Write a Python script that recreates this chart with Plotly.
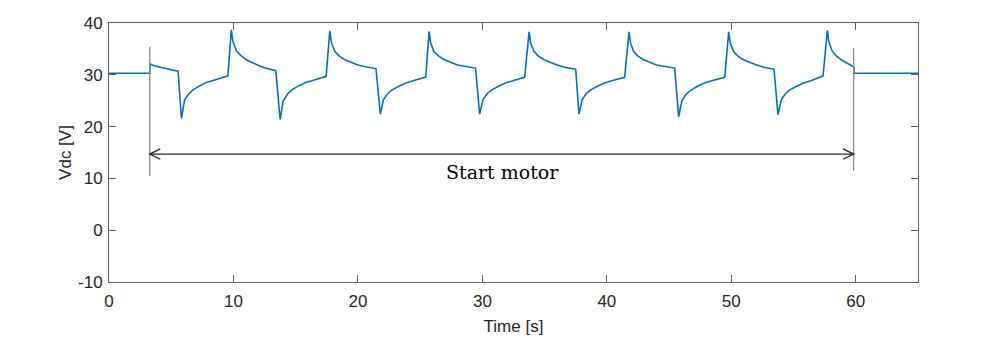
import plotly.graph_objects as go

# Pre-start (motor idle)
t_pre = [0.0, 1.0, 2.0, 3.27]
v_pre = [30.3, 30.3, 30.3, 30.3]

# Motor running segment
t_run = [3.27, 3.30, 3.6, 4.2, 5.0, 5.55,
         5.82, 5.9, 6.08, 6.4, 6.75, 7.3, 7.82, 8.5, 9.16, 9.55,
         9.83, 9.95, 10.24, 10.6, 11.04, 11.6, 12.1, 12.7, 13.4,
         13.75, 13.85, 14.0, 14.35, 14.7, 15.25, 15.8, 16.5, 17.1, 17.45,
         17.74, 17.86, 18.15, 18.5, 18.95, 19.5, 20.0, 20.7, 21.45,
         21.8, 21.9, 22.05, 22.4, 22.75, 23.3, 23.85, 24.5, 25.1, 25.45,
         25.72, 25.84, 26.1, 26.5, 26.95, 27.5, 28.0, 28.7, 29.45,
         29.78, 29.88, 30.05, 30.4, 30.75, 31.3, 31.85, 32.5, 33.05, 33.4,
         33.75, 33.87, 34.15, 34.5, 34.95, 35.5, 36.0, 36.7, 37.5,
         37.76, 37.86, 38.02, 38.35, 38.7, 39.25, 39.8, 40.45, 41.05, 41.43,
         41.78, 41.9, 42.15, 42.5, 42.95, 43.5, 44.0, 44.7, 45.45,
         45.77, 45.87, 46.03, 46.38, 46.73, 47.28, 47.83, 48.5, 49.1, 49.47,
         49.79, 49.91, 50.18, 50.53, 50.98, 51.53, 52.03, 52.7, 53.43,
         53.75, 53.85, 54.02, 54.36, 54.7, 55.25, 55.8, 56.45, 57.0, 57.37,
         57.72, 57.84, 58.1, 58.45, 58.9, 59.4, 59.85]
v_run = [30.3, 32.1, 31.8, 31.4, 31.0, 30.7,
         21.6, 23.0, 25.2, 26.3, 27.1, 27.9, 28.5, 29.0, 29.5, 29.8,
         38.7, 36.5, 34.6, 33.7, 32.9, 32.2, 31.7, 31.2, 30.8,
         21.4, 23.0, 25.0, 26.3, 27.1, 27.9, 28.5, 29.0, 29.4, 29.7,
         38.5, 36.3, 34.5, 33.6, 32.9, 32.3, 31.9, 31.5, 31.2,
         22.4, 23.6, 25.2, 26.4, 27.1, 27.8, 28.4, 28.9, 29.3, 29.55,
         38.4, 36.2, 34.5, 33.6, 32.9, 32.3, 31.9, 31.6, 31.3,
         22.4, 23.6, 25.2, 26.4, 27.1, 27.8, 28.4, 28.9, 29.3, 29.5,
         38.3, 36.2, 34.5, 33.6, 32.9, 32.3, 31.9, 31.4, 31.1,
         22.4, 23.6, 25.2, 26.4, 27.1, 27.8, 28.4, 28.9, 29.3, 29.5,
         38.3, 36.2, 34.5, 33.6, 32.9, 32.3, 31.9, 31.6, 31.3,
         21.9, 23.3, 25.0, 26.3, 27.0, 27.8, 28.4, 28.9, 29.3, 29.5,
         38.3, 36.2, 34.5, 33.6, 32.9, 32.3, 31.9, 31.4, 31.1,
         22.3, 23.5, 25.2, 26.4, 27.1, 27.8, 28.4, 28.9, 29.4, 29.8,
         38.6, 36.4, 34.6, 33.6, 32.8, 32.1, 31.5]

# Post (motor stopped)
t_post = [59.87, 62.0, 65.0]
v_post = [30.3, 30.3, 30.3]

x_ticks = [0, 10, 20, 30, 40, 50, 60]
x_tick_labels = ["0", "10", "20", "30", "40", "50", "60"]
y_ticks = [-10, 0, 10, 20, 30, 40]
y_tick_labels = ["-10", "0", "10", "20", "30", "40"]

# Annotation geometry (data units)
start_t, stop_t = 3.27, 59.83
marker_left = (10.4, 35.4)
marker_right = (11.5, 35.2)
arrow_y = 14.7
label_text = "Start motor"

t_all = t_pre + t_run[1:] + t_post
v_all = v_pre + v_run[1:] + v_post

fig = go.Figure()
fig.add_trace(go.Scatter(x=t_all, y=v_all, mode="lines",
                         line=dict(color="#0072BD", width=1.6),
                         showlegend=False, hoverinfo="skip"))

axis_col = "#5f5f5f"
txt_col = "#262626"
sans = "Liberation Sans, Arial"
fig.update_xaxes(range=[0, 65], tickvals=x_ticks, ticktext=x_tick_labels,
                 showgrid=False, zeroline=False,
                 showline=True, linecolor=axis_col, linewidth=1, mirror="ticks",
                 ticks="inside", ticklen=7, tickcolor=axis_col, ticklabelstandoff=4,
                 tickfont=dict(family=sans, size=17, color=txt_col),
                 title=dict(text="Time [s]", font=dict(family=sans, size=17, color=txt_col), standoff=9))
fig.update_yaxes(range=[-10, 40], tickvals=y_ticks, ticktext=y_tick_labels,
                 showgrid=False, zeroline=False,
                 showline=True, linecolor=axis_col, linewidth=1, mirror="ticks",
                 ticks="inside", ticklen=7, tickcolor=axis_col, ticklabelstandoff=2,
                 tickfont=dict(family=sans, size=17, color=txt_col),
                 title=dict(text="Vdc [V]", font=dict(family=sans, size=17, color=txt_col), standoff=2))

shapes = []
gray = "#8c8c8c"
shapes.append(dict(type="line", xref="x", yref="y", x0=start_t, x1=start_t,
                   y0=marker_left[0], y1=marker_left[1], line=dict(color=gray, width=1.3)))
shapes.append(dict(type="line", xref="x", yref="y", x0=stop_t, x1=stop_t,
                   y0=marker_right[0], y1=marker_right[1], line=dict(color=gray, width=1.3)))
shapes.append(dict(type="line", xref="x", yref="y", x0=start_t, x1=stop_t,
                   y0=arrow_y, y1=arrow_y, line=dict(color="#222222", width=1.3)))
dx, dy = 0.85, 1.0
shapes.append(dict(type="path", xref="x", yref="y",
                   path=f"M {start_t+dx},{arrow_y+dy} L {start_t},{arrow_y} L {start_t+dx},{arrow_y-dy}",
                   line=dict(color="#222222", width=1.3)))
shapes.append(dict(type="path", xref="x", yref="y",
                   path=f"M {stop_t-dx},{arrow_y+dy} L {stop_t},{arrow_y} L {stop_t-dx},{arrow_y-dy}",
                   line=dict(color="#222222", width=1.3)))

fig.update_layout(
    width=999, height=345,
    margin=dict(l=109, r=81, t=23, b=63),
    plot_bgcolor="white", paper_bgcolor="white",
    shapes=shapes,
    annotations=[dict(x=(start_t + stop_t) / 2 + 0.1, y=11.3, xref="x", yref="y",
                      text=label_text, showarrow=False,
                      font=dict(family="DejaVu Serif", size=19, color="black"))],
)

fig.write_html("out.html")
